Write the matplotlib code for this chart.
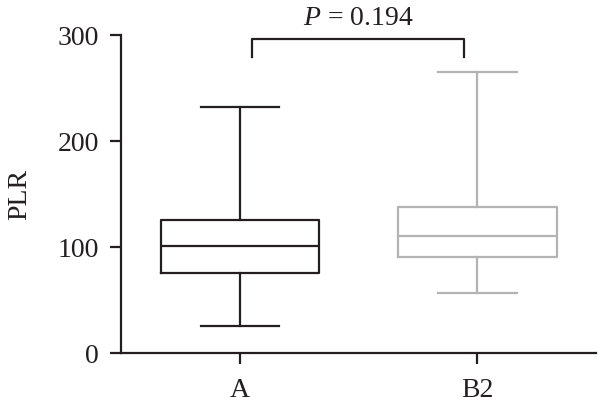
import matplotlib.pyplot as plt

# values (PLR)
groups = ['A', 'B2']
whislo = [26, 56.5]
q1 = [76, 91]
med = [101, 111]
q3 = [125.5, 138]
whishi = [232, 265]
colors = ['#231f20', '#b3b3b3']
p_text = '$\\it{P}$ = 0.194'

plt.rcParams['font.family'] = ['Liberation Serif', 'DejaVu Serif']
plt.rcParams['mathtext.fontset'] = 'custom'
plt.rcParams['mathtext.it'] = 'Liberation Serif:italic'

fig = plt.figure(figsize=(6, 4.12), dpi=100)
ax = fig.add_axes([0.2017, 0.1425, 0.792, 0.7725])

stats = []
for i, g in enumerate(groups):
    stats.append({'label': g, 'whislo': whislo[i], 'q1': q1[i], 'med': med[i],
                  'q3': q3[i], 'whishi': whishi[i], 'fliers': []})

for i, s in enumerate(stats):
    c = colors[i]
    lw = 1.6
    ax.bxp([s], positions=[i + 1], widths=0.667, showfliers=False,
           boxprops=dict(color=c, linewidth=lw, solid_joinstyle='round'),
           medianprops=dict(color=c, linewidth=lw),
           whiskerprops=dict(color=c, linewidth=lw),
           capprops=dict(color=c, linewidth=lw),
           capwidths=0.33)

# significance bracket
x1, x2, y_top, y_leg = 1.05, 1.945, 296, 279.5
ax.plot([x1, x1, x2, x2], [y_leg, y_top, y_top, y_leg], color='#231f20',
        lw=1.6, clip_on=False)
ax.text((x1 + x2) / 2, 304, p_text, ha='center', va='bottom', fontsize=20,
        color='#231f20', clip_on=False)

ax.set_xlim(0.5, 2.5)
ax.set_ylim(0, 300)
ax.set_yticks([0, 100, 200, 300])
ax.set_xticks([1, 2])
ax.set_xticklabels(groups)
ax.set_ylabel('PLR', fontsize=20, color='#231f20', labelpad=18)
ax.tick_params(labelsize=20, colors='#231f20', width=1.6, length=8, direction='out')
ax.tick_params(axis='y', pad=8)
ax.tick_params(axis='x', pad=10)
for side in ['top', 'right']:
    ax.spines[side].set_visible(False)
for side in ['left', 'bottom']:
    ax.spines[side].set_linewidth(1.6)
    ax.spines[side].set_color('#231f20')

fig.savefig('out.png', dpi=100)
